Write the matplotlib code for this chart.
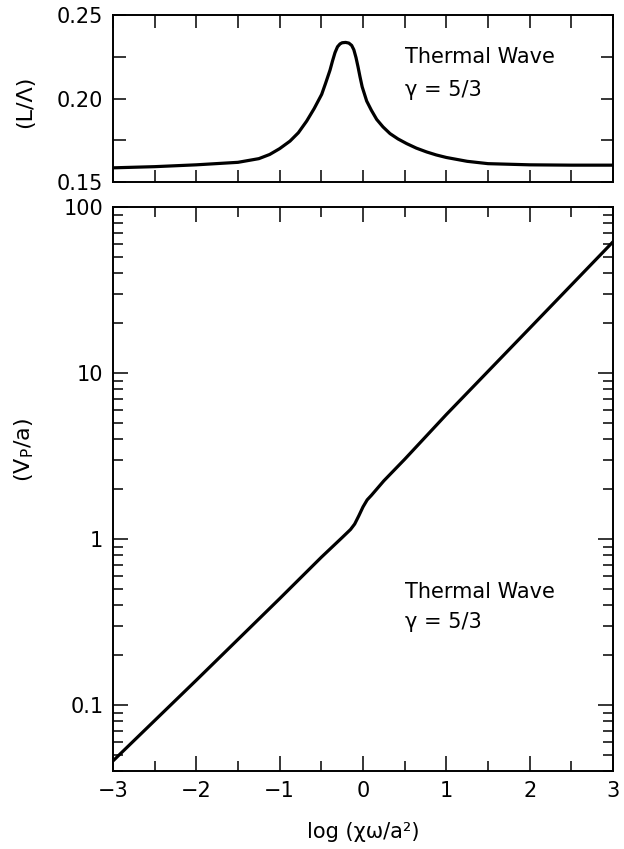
import matplotlib
matplotlib.use('Agg')
import matplotlib.pyplot as plt
import matplotlib.ticker as ticker
import numpy as np

# top panel: (L/Lambda) vs log(chi omega / a^2)
x_top = [-3.0, -2.5, -2.0, -1.5, -1.25, -1.12, -1.0, -0.876, -0.776, -0.676,
         -0.586, -0.496, -0.45, -0.396, -0.366, -0.336, -0.306, -0.276, -0.25,
         -0.208, -0.17, -0.136, -0.11, -0.084, -0.06, -0.036, -0.01, 0.044,
         0.10, 0.164, 0.24, 0.324, 0.42, 0.524, 0.64, 0.764, 0.88, 1.0, 1.25,
         1.5, 2.0, 2.5, 3.0]
l_top = [0.1585, 0.1592, 0.1603, 0.1618, 0.1640, 0.1665, 0.1700, 0.1745, 0.1795,
         0.1865, 0.1940, 0.2025, 0.2090, 0.2170, 0.2225, 0.2275, 0.2310, 0.2327,
         0.2334, 0.2336, 0.2332, 0.2318, 0.2292, 0.2245, 0.2190, 0.2130, 0.2070,
         0.1985, 0.1930, 0.1875, 0.1830, 0.1790, 0.1758, 0.1730, 0.1703, 0.1680,
         0.1662, 0.1647, 0.1624, 0.1610, 0.1603, 0.1601, 0.1601]

# bottom panel: (Vp/a) vs log(chi omega / a^2)
x_bot = [-3.0, -2.0, -1.0, -0.5, -0.25, -0.15, -0.1, -0.05, 0.0, 0.05, 0.1,
         0.25, 0.5, 1.0, 2.0, 3.0]
v_bot = [0.046, 0.141, 0.437, 0.776, 1.02, 1.14, 1.23, 1.38, 1.56, 1.72, 1.83,
         2.24, 3.02, 5.62, 18.6, 61.7]

x_ticks = [-3, -2, -1, 0, 1, 2, 3]
x_ticklabels = ['\u22123', '\u22122', '\u22121', '0', '1', '2', '3']
top_yticks = [0.15, 0.20, 0.25]
top_yticklabels = ['0.15', '0.20', '0.25']
bot_yticks = [0.1, 1, 10, 100]
bot_yticklabels = ['0.1', '1', '10', '100']

plt.rcParams['font.family'] = ['DejaVu Sans']
fig = plt.figure(figsize=(6.24, 8.49), dpi=100)

ax1 = fig.add_axes([0.1811, 0.7856, 0.8013, 0.1967])
ax2 = fig.add_axes([0.1811, 0.0919, 0.8013, 0.6643])

for ax in (ax1, ax2):
    for s in ax.spines.values():
        s.set_linewidth(1.4)
    ax.set_xlim(-3, 3)
    ax.xaxis.set_major_locator(ticker.FixedLocator(x_ticks))
    ax.xaxis.set_minor_locator(ticker.MultipleLocator(0.5))
    ax.tick_params(which='both', direction='in', top=True, right=True,
                   width=1.1, labelsize=15, pad=7)

# top panel
ax1.plot(x_top, l_top, color='black', lw=2.3, solid_capstyle='round',
         solid_joinstyle='round')
ax1.set_ylim(0.15, 0.25)
ax1.set_yticks(top_yticks)
ax1.set_yticklabels(top_yticklabels)
ax1.yaxis.set_minor_locator(ticker.MultipleLocator(0.025))
ax1.tick_params(which='both', length=9)
ax1.tick_params(axis='x', labelbottom=False)
ax1.set_ylabel('(L/\u039b)', fontsize=16)
ax1.yaxis.set_label_coords(-0.155, 0.48)
ax1.text(0.504, 0.225, 'Thermal Wave', fontsize=15, va='center', ha='left')
ax1.text(0.504, 0.205, '\u03b3 = 5/3', fontsize=15, va='center', ha='left')

# bottom panel
ax2.semilogy(x_bot, v_bot, color='black', lw=2.3, solid_capstyle='round',
             solid_joinstyle='round')
ax2.set_ylim(0.04, 100)
ax2.yaxis.set_major_locator(ticker.FixedLocator(bot_yticks))
ax2.yaxis.set_major_formatter(ticker.FixedFormatter(bot_yticklabels))
ax2.yaxis.set_minor_locator(ticker.LogLocator(base=10, subs=np.arange(2, 10)))
ax2.yaxis.set_minor_formatter(ticker.NullFormatter())
ax2.tick_params(which='major', length=11)
ax2.tick_params(which='minor', length=7)
ax2.set_xticklabels(x_ticklabels)
ax2.set_xlabel('log (\u03c7\u03c9/a\u00b2)', fontsize=15, labelpad=15)
ax2.set_ylabel('(V$_\\mathrm{P}$/a)', fontsize=16)
ax2.yaxis.set_label_coords(-0.155, 0.569)
ax2.text(0.504, 0.48, 'Thermal Wave', fontsize=15, va='center', ha='left')
ax2.text(0.504, 0.318, '\u03b3 = 5/3', fontsize=15, va='center', ha='left')

fig.savefig('out.png', dpi=100)
